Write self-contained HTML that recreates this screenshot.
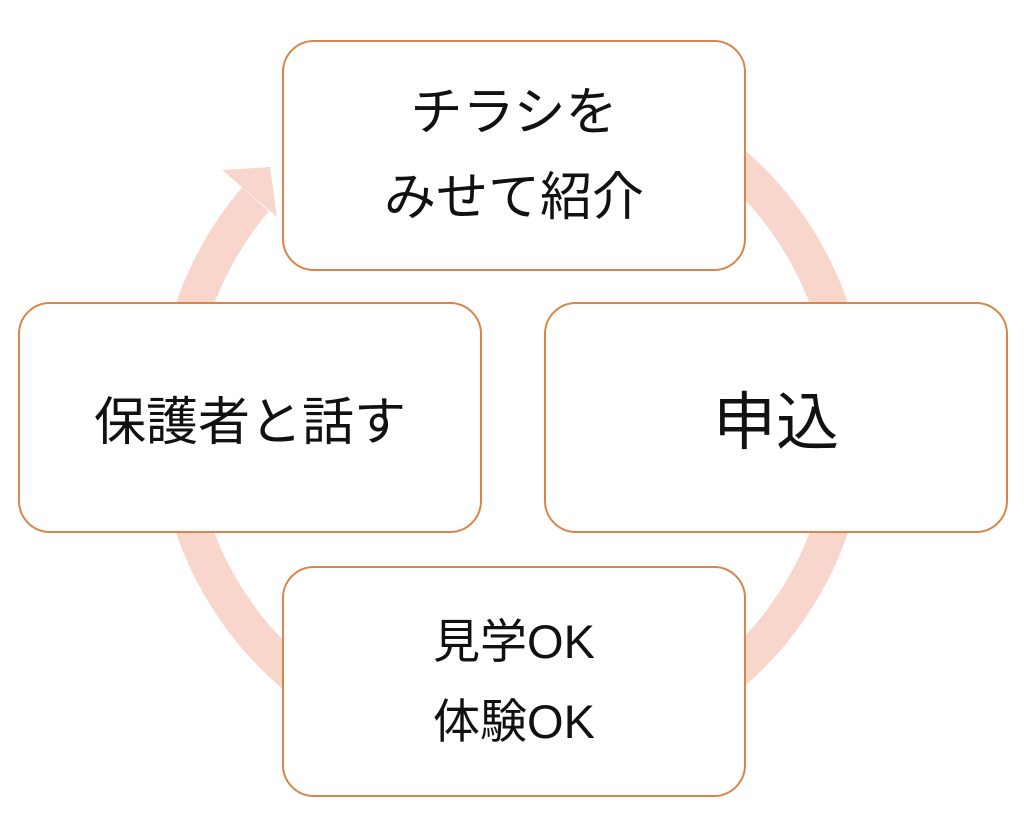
<!DOCTYPE html>
<html><head><meta charset="utf-8"><style>
html,body{margin:0;padding:0;background:#fff;}
body{width:1024px;height:819px;position:relative;overflow:hidden;font-family:"Liberation Sans","Noto Sans CJK JP",sans-serif;color:#111;}
.b{position:absolute;box-sizing:border-box;width:464px;height:231px;border:2.5px solid #d9854a;border-radius:32px;background:#fff;display:flex;align-items:center;justify-content:center;text-align:center;}
</style></head><body>
<svg width="1024" height="819" style="position:absolute;left:0;top:0">
<circle cx="512" cy="418" r="337" fill="none" stroke="#f8d6cc" stroke-width="36"/>
<polygon points="223,170 278,220 290,220 290,90 210,90 210,160" fill="#fff"/>
<polygon points="222,170 270,167 277,217" fill="#f8d6cc"/>
</svg>
<div class="b" style="left:282px;top:40px;font-size:52px;line-height:85px;">チラシを<br>みせて紹介</div>
<div class="b" style="left:18px;top:302px;font-size:52px;">保護者と話す</div>
<div class="b" style="left:544px;top:302px;font-size:63px;">申込</div>
<div class="b" style="left:282px;top:566px;font-size:47px;line-height:80px;">見学OK<br>体験OK</div>
</body></html>
